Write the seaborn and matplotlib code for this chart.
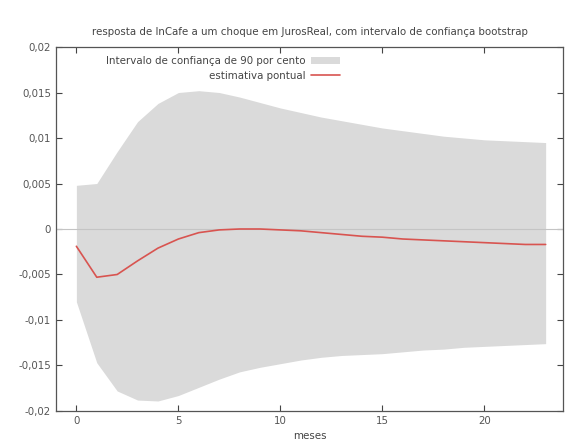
import matplotlib
matplotlib.use("Agg")
import matplotlib.pyplot as plt
import seaborn as sns
import pandas as pd
import numpy as np

# Impulse response of lnCafe to a JurosReal shock (months 0..23)
meses = list(range(24))
estimativa = [-0.0019, -0.0053, -0.0050, -0.0035, -0.0021, -0.0011, -0.0004, -0.0001,
              0.0000, 0.0000, -0.0001, -0.0002, -0.0004, -0.0006, -0.0008, -0.0009,
              -0.0011, -0.0012, -0.0013, -0.0014, -0.0015, -0.0016, -0.0017, -0.0017]
limite_sup = [0.0048, 0.0050, 0.0085, 0.0118, 0.0138, 0.0150, 0.0152, 0.0150,
              0.0145, 0.0139, 0.0133, 0.0128, 0.0123, 0.0119, 0.0115, 0.0111,
              0.0108, 0.0105, 0.0102, 0.0100, 0.0098, 0.0097, 0.0096, 0.0095]
limite_inf = [-0.0080, -0.0147, -0.0178, -0.0188, -0.0189, -0.0183, -0.0174, -0.0165,
              -0.0157, -0.0152, -0.0148, -0.0144, -0.0141, -0.0139, -0.0138, -0.0137,
              -0.0135, -0.0133, -0.0132, -0.0130, -0.0129, -0.0128, -0.0127, -0.0126]

y_ticks = [-0.02, -0.015, -0.01, -0.005, 0, 0.005, 0.01, 0.015, 0.02]
y_labels = ["-0,02", "-0,015", "-0,01", "-0,005", "0", "0,005", "0,01", "0,015", "0,02"]
x_ticks = [0, 5, 10, 15, 20]

df = pd.DataFrame({"meses": meses, "estimativa": estimativa,
                   "sup": limite_sup, "inf": limite_inf})

sns.set_style("ticks")
plt.rcParams["font.family"] = ["DejaVu Sans"]

fs = 7.4
fig = plt.figure(figsize=(5.66, 4.46), dpi=100)
ax = fig.add_axes([0.0989, 0.0785, 0.8958, 0.8161])

ax.fill_between(df["meses"], df["inf"], df["sup"], color="#dadada",
                linewidth=0, label="Intervalo de confiança de 90 por cento", zorder=1)
ax.axhline(0, color="#c4c4c4", linewidth=0.8, zorder=2)
sns.lineplot(data=df, x="meses", y="estimativa", ax=ax, color="#d85450",
             linewidth=1.2, label="estimativa pontual", zorder=3)

ax.set_xlim(-1, 23.85)
ax.set_ylim(-0.02, 0.02)
ax.set_xticks(x_ticks)
ax.set_xticklabels([str(t) for t in x_ticks])
ax.set_yticks(y_ticks)
ax.set_yticklabels(y_labels)
ax.tick_params(direction="in", top=True, right=True, length=4, width=0.8,
               labelsize=fs, labelcolor="#555555", color="#444444")
for s in ax.spines.values():
    s.set_color("#555555")
    s.set_linewidth(0.9)

ax.set_xlabel("meses", fontsize=fs, color="#444444", labelpad=4)
ax.set_ylabel("")
ax.set_title("resposta de lnCafe a um choque em JurosReal, com intervalo de confiança bootstrap",
             fontsize=fs, color="#444444", pad=9)

leg = ax.legend(loc="upper left", bbox_to_anchor=(0.085, 0.995), frameon=False,
                fontsize=fs, markerfirst=False, handlelength=2.8,
                handleheight=0.6, borderaxespad=0.3, labelspacing=0.45,
                handletextpad=0.5)
for t in leg.get_texts():
    t.set_color("#444444")
    t.set_ha("right")
leg._legend_box.align = "right"

fig.savefig("out.png", dpi=100)
